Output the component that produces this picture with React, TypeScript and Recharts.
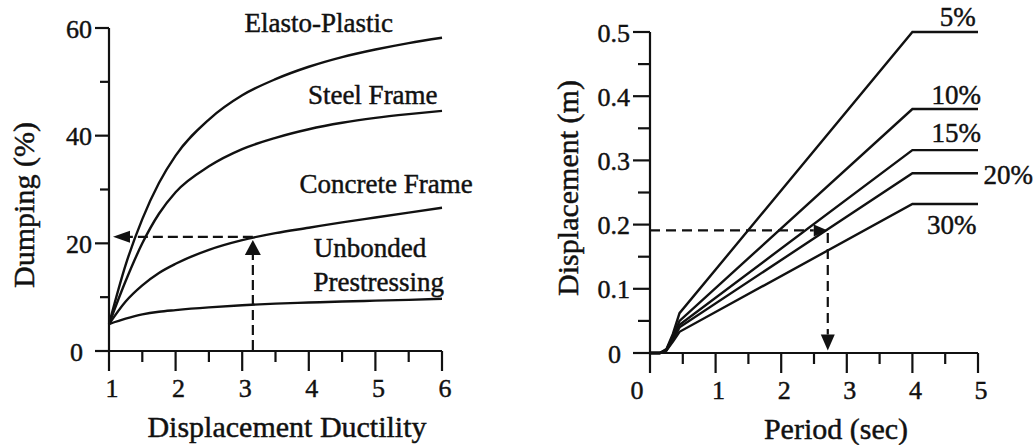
import React from 'react';
import { LineChart, Line, XAxis, YAxis, ReferenceLine, ReferenceDot } from 'recharts';

// left panel: damping vs ductility
const ductility = [1, 1.25, 1.5, 1.75, 2, 2.5, 3, 3.5, 4, 4.5, 5, 5.5, 6];
const elastoPlastic = [5, 16, 24.5, 31.2, 36.3, 43, 47.5, 50.5, 52.8, 54.6, 56, 57.2, 58.2];
const steelFrame = [5, 13, 20, 25.5, 29.5, 34.3, 37.5, 39.6, 41.2, 42.4, 43.3, 44, 44.6];
const concreteFrame = [5, 9.2, 12.2, 14.5, 16.2, 18.8, 20.6, 21.9, 22.9, 23.9, 24.8, 25.7, 26.6];
const unbondedPrestressing = [5, 6, 6.8, 7.3, 7.6, 8.1, 8.5, 8.8, 9, 9.2, 9.35, 9.5, 9.7];

const ductilityTicks = [1, 1.5, 2, 2.5, 3, 3.5, 4, 4.5, 5, 5.5, 6];
const dampingTicks = [0, 10, 20, 30, 40, 50, 60];

// right panel: displacement spectra
const period = [0, 0.15, 0.25, 0.35, 0.45, 4, 5];
const disp5 = [0, 0, 0.006, 0.03, 0.062, 0.5, 0.5];
const disp10 = [0, 0, 0.005, 0.026, 0.05, 0.38, 0.38];
const disp15 = [0, 0, 0.005, 0.023, 0.044, 0.316, 0.316];
const disp20 = [0, 0, 0.004, 0.021, 0.04, 0.28, 0.28];
const disp30 = [0, 0, 0.004, 0.018, 0.033, 0.232, 0.232];

const periodTicks = [0, 0.5, 1, 1.5, 2, 2.5, 3, 3.5, 4, 4.5, 5];
const dispTicks = [0, 0.05, 0.1, 0.15, 0.2, 0.25, 0.3, 0.35, 0.4, 0.45, 0.5];

// worked example read-offs
const exDuct = 3.16;
const exDamping = 21.2;
const exPeriod = 2.71;
const exDisp = 0.191;

// curve names, anchored in data space
const leftNames = ['Elasto-Plastic', 'Steel Frame', 'Concrete Frame', 'Unbonded', 'Prestressing'];
const leftNameX = [4.15, 4.96, 5.16, 4.92, 5.05];
const leftNameY = [60.9, 47.6, 31.0, 19.2, 12.9];
const rightNames = ['5%', '10%', '15%', '20%', '30%'];
const rightNameX = [4.69, 4.67, 4.67, 5.46, 4.6];
const rightNameY = [0.524, 0.402, 0.342, 0.277, 0.2];

const leftData = ductility.map((x, i) => ({
  x,
  ep: elastoPlastic[i],
  sf: steelFrame[i],
  cf: concreteFrame[i],
  up: unbondedPrestressing[i],
}));

const rightData = period.map((t, i) => ({
  t,
  d5: disp5[i],
  d10: disp10[i],
  d15: disp15[i],
  d20: disp20[i],
  d30: disp30[i],
}));

const FONT = '"Liberation Serif", "Times New Roman", serif';
const INK = '#111';
const textStyle = { fontFamily: FONT, fill: INK, stroke: INK, strokeWidth: 0.45 };

const makeYTick = (isMajor: (v: number) => boolean, fmt: (v: number) => string, majorLen: number, minorLen: number) =>
  function YTick(props: any) {
    const { x, y, payload } = props;
    const v = payload.value;
    const major = isMajor(v);
    const shift = v === 0 ? 9 : 0;
    return (
      <g>
        <line x1={x} y1={y} x2={x - (major ? majorLen : minorLen)} y2={y} stroke={INK} strokeWidth={2.2} />
        {major && (
          <text x={x - majorLen - 3 - shift} y={y + 1} textAnchor="end" dominantBaseline="central"
            fontSize={26} {...textStyle}>
            {fmt(v)}
          </text>
        )}
      </g>
    );
  };

const makeXTick = (zeroShift: number) =>
  function XTick(props: any) {
    const { x, y, payload } = props;
    const v = payload.value;
    const major = Number.isInteger(v);
    return (
      <g>
        <line x1={x} y1={y} x2={x} y2={y + (major ? 20 : 11)} stroke={INK} strokeWidth={2.2} />
        {major && (
          <text x={x + 3 + (v === 0 ? zeroShift : 0)} y={y + 37} textAnchor="middle" dominantBaseline="central"
            fontSize={26} {...textStyle}>
            {v}
          </text>
        )}
      </g>
    );
  };

const LeftYTick = makeYTick((v) => v % 20 === 0, (v) => String(v), 14, 9);
const RightYTick = makeYTick((v) => Math.round(v * 100) % 10 === 0, (v) => (v === 0 ? '0' : v.toFixed(1)), 17, 12);
const LeftXTick = makeXTick(0);
const RightXTick = makeXTick(-16);

const axisTitle = (text: string, dx: number, dy: number, rotate: boolean) =>
  function AxisTitle(props: any) {
    const vb = props.viewBox || { x: 0, y: 0 };
    const cx = vb.x + dx;
    const cy = vb.y + dy;
    return (
      <text x={cx} y={cy} transform={rotate ? `rotate(-90 ${cx} ${cy})` : undefined}
        textAnchor="middle" dominantBaseline="central" fontSize={30} {...textStyle}>
        {text}
      </text>
    );
  };

function DashedArrow(props: any) {
  const { x1, y1, x2, y2, head = 15, half = 7, dash = '10 5' } = props;
  const dx = x2 - x1;
  const dy = y2 - y1;
  const len = Math.hypot(dx, dy) || 1;
  const ux = dx / len;
  const uy = dy / len;
  const bx = x2 - ux * head;
  const by = y2 - uy * head;
  const pts = `${x2},${y2} ${bx - uy * half},${by + ux * half} ${bx + uy * half},${by - ux * half}`;
  return (
    <g>
      <line x1={x1} y1={y1} x2={bx} y2={by} stroke={INK} strokeWidth={2.2} strokeDasharray={dash} />
      <polygon points={pts} fill={INK} />
    </g>
  );
}

const nameShape = (text: string) =>
  function NameText(props: any) {
    return (
      <text x={props.cx} y={props.cy} textAnchor="middle" dominantBaseline="central"
        fontSize={27} {...textStyle}>
        {text}
      </text>
    );
  };

const lineProps = {
  type: 'monotone' as const,
  stroke: INK,
  strokeWidth: 2.4,
  dot: false,
  activeDot: false,
  isAnimationActive: false,
};

export default function App() {
  return (
    <div style={{ position: 'absolute', left: 0, top: 0, width: 1036, height: 445, background: '#fff', overflow: 'hidden' }}>
      <div style={{ position: 'absolute', left: 0, top: 0 }}>
        <LineChart width={520} height={445} data={leftData} margin={{ top: 28, right: 78, bottom: 0, left: 0 }}
          style={{ overflow: 'visible' }}>
          <XAxis dataKey="x" type="number" domain={[1, 6]} ticks={ductilityTicks} interval={0}
            height={94} tickSize={0} tickMargin={0} tickLine={false}
            axisLine={{ stroke: INK, strokeWidth: 2.2 }} tick={<LeftXTick />}
            label={{ content: axisTitle('Displacement Ductility', 178, 75, false) }} />
          <YAxis type="number" domain={[0, 60]} ticks={dampingTicks} interval={0}
            width={109} tickSize={0} tickMargin={0} tickLine={false}
            axisLine={{ stroke: INK, strokeWidth: 2.2 }} tick={<LeftYTick />}
            label={{ content: axisTitle('Dumping (%)', 23, 177, true) }} />
          <Line dataKey="ep" {...lineProps} />
          <Line dataKey="sf" {...lineProps} />
          <Line dataKey="cf" {...lineProps} />
          <Line dataKey="up" {...lineProps} />
          <ReferenceLine segment={[{ x: exDuct, y: exDamping }, { x: 1.06, y: exDamping }]}
            shape={(p: any) => <DashedArrow {...p} head={17} half={6} />} />
          <ReferenceLine segment={[{ x: exDuct, y: 0.2 }, { x: exDuct, y: 20.6 }]}
            shape={(p: any) => <DashedArrow {...p} head={15} half={8} />} />
          {leftNames.map((n, i) => (
            <ReferenceDot key={n} x={leftNameX[i]} y={leftNameY[i]} r={0} ifOverflow="visible"
              shape={nameShape(n)} />
          ))}
        </LineChart>
      </div>
      <div style={{ position: 'absolute', left: 520, top: 0 }}>
        <LineChart width={516} height={445} data={rightData} margin={{ top: 32, right: 58, bottom: 0, left: 0 }}
          style={{ overflow: 'visible' }}>
          <XAxis dataKey="t" type="number" domain={[0, 5]} ticks={periodTicks} interval={0}
            height={92} tickSize={0} tickMargin={0} tickLine={false}
            axisLine={{ stroke: INK, strokeWidth: 2.2 }} tick={<RightXTick />}
            label={{ content: axisTitle('Period (sec)', 186, 75, false) }} />
          <YAxis type="number" domain={[0, 0.5]} ticks={dispTicks} interval={0}
            width={130} tickSize={0} tickMargin={0} tickLine={false}
            axisLine={{ stroke: INK, strokeWidth: 2.2 }} tick={<RightYTick />}
            label={{ content: axisTitle('Displacement (m)', 47, 156, true) }} />
          <Line dataKey="d5" {...lineProps} type="linear" />
          <Line dataKey="d10" {...lineProps} type="linear" />
          <Line dataKey="d15" {...lineProps} type="linear" />
          <Line dataKey="d20" {...lineProps} type="linear" />
          <Line dataKey="d30" {...lineProps} type="linear" />
          <ReferenceLine segment={[{ x: 0, y: exDisp }, { x: exPeriod, y: exDisp }]}
            shape={(p: any) => <DashedArrow {...p} head={14} half={6} dash="10 6" />} />
          <ReferenceLine segment={[{ x: exPeriod, y: exDisp - 0.004 }, { x: exPeriod, y: 0.004 }]}
            shape={(p: any) => <DashedArrow {...p} head={16} half={7} dash="10 6" />} />
          {rightNames.map((n, i) => (
            <ReferenceDot key={n} x={rightNameX[i]} y={rightNameY[i]} r={0} ifOverflow="visible"
              shape={nameShape(n)} />
          ))}
        </LineChart>
      </div>
    </div>
  );
}
